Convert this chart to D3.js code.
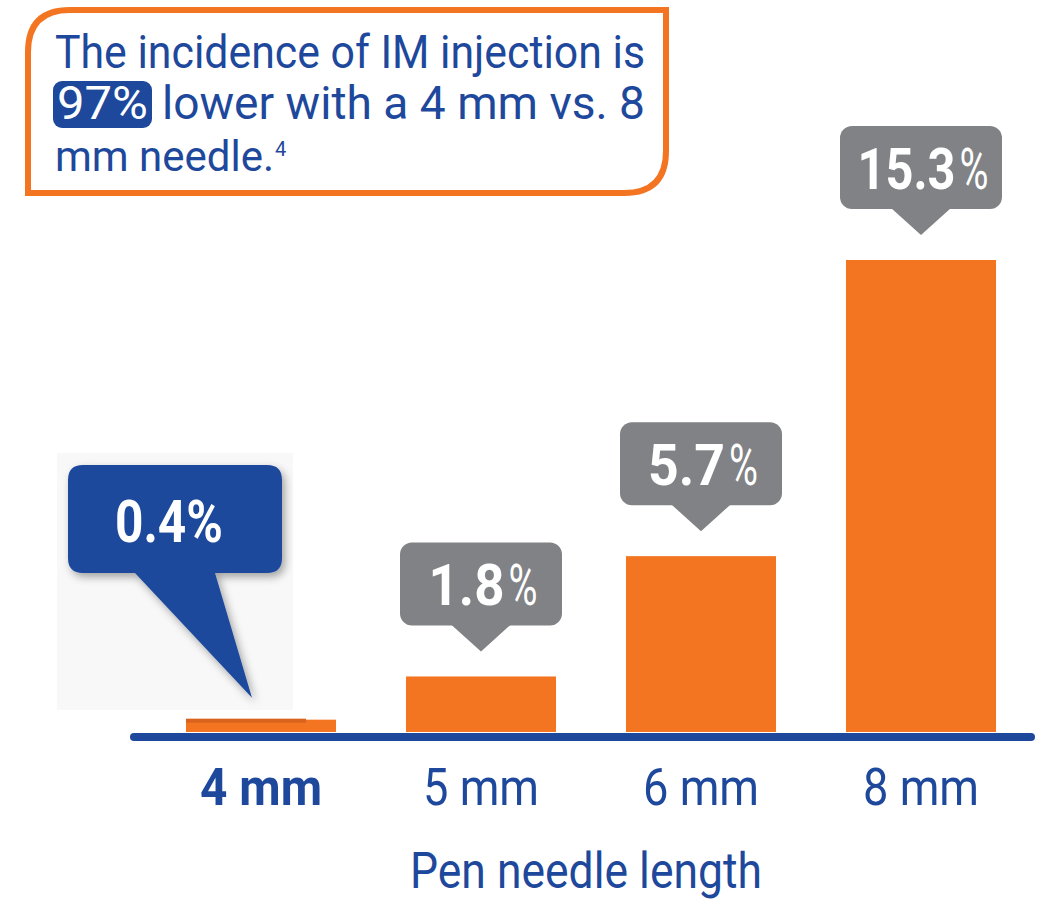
<!DOCTYPE html>
<html>
<head>
<meta charset="utf-8">
<script src="https://cdn.jsdelivr.net/npm/d3@7"></script>
<style>
  body { margin: 0; background: #fff; }
  svg { display: block; }
  text { font-family: "Liberation Sans Narrow", "Roboto", "Open Sans", sans-serif; }
</style>
</head>
<body>
<script>

var categories = ["4 mm", "5 mm", "6 mm", "8 mm"]
var values = [0.4, 1.8, 5.7, 15.3]
var valueNums = ["0.4", "1.8", "5.7", "15.3"]
var numWidths = [108, 76, 77, 98]
var headline = ["The incidence of IM injection is", "lower with a 4 mm vs. 8", "mm needle."]

var width = 1060, height = 902
var orange = "#f37521", blue = "#1e489c", grey = "#808285"

var svg = d3.select("body")
  .append("svg")
    .attr("width", width)
    .attr("height", height)

/******** Filters *********/
var defs = svg.append("defs")
var shadow = defs.append("filter")
    .attr("id", "shadow")
    .attr("x", "-30%").attr("y", "-30%")
    .attr("width", "160%").attr("height", "160%")
shadow.append("feDropShadow")
    .attr("dx", 3).attr("dy", 4)
    .attr("stdDeviation", 4)
    .attr("flood-color", "#000")
    .attr("flood-opacity", 0.35)

/******** Scales *********/
var x = d3.scaleBand()
  .domain(categories)
  .range([151, 1031])
  .paddingInner(0.318)
  .paddingOuter(0.159)

var y = d3.scaleLinear()
  .domain([0, 15.3])
  .range([732, 260])

// squeeze a text horizontally to a given width (condensed look)
function squeeze(sel, x0, y0, w){
  var nat = sel.node().getComputedTextLength()
  sel.attr("x", 0).attr("y", 0)
    .attr("transform", "translate(" + x0 + "," + y0 + ") scale(" + (w / nat) + ",1)")
}

/******** Headline box *********/
var bx0 = 28, by0 = 10, bx1 = 666, by1 = 193, br = 42
svg.append("path")
  .attr("d", "M" + bx0 + "," + by1 +
    " L" + bx0 + "," + (by0 + br) +
    " Q" + bx0 + "," + by0 + " " + (bx0 + br) + "," + by0 +
    " L" + bx1 + "," + by0 +
    " L" + bx1 + "," + (by1 - br) +
    " Q" + bx1 + "," + by1 + " " + (bx1 - br) + "," + by1 + " Z")
  .attr("fill", "#fff")
  .attr("stroke", orange)
  .attr("stroke-width", 6)

svg.append("text")
  .attr("x", 55).attr("y", 68)
  .attr("textLength", 590)
  .attr("lengthAdjust", "spacingAndGlyphs")
  .attr("font-size", 46)
  .attr("fill", blue)
  .text(headline[0])

svg.append("rect")
  .attr("x", 53).attr("y", 81)
  .attr("width", 99).attr("height", 47)
  .attr("rx", 9)
  .attr("fill", blue)

svg.append("text")
  .attr("x", 57).attr("y", 119)
  .attr("textLength", 91)
  .attr("lengthAdjust", "spacingAndGlyphs")
  .attr("font-size", 46)
  .attr("fill", "#fff")
  .text("97%")

svg.append("text")
  .attr("x", 162).attr("y", 119)
  .attr("textLength", 483)
  .attr("lengthAdjust", "spacingAndGlyphs")
  .attr("font-size", 46)
  .attr("fill", blue)
  .text(headline[1])

var line3 = svg.append("text")
  .attr("x", 55).attr("y", 171)
  .attr("font-size", 42)
  .attr("fill", blue)
  .text(headline[2])

svg.append("text")
  .attr("x", 55 + line3.node().getComputedTextLength() + 1).attr("y", 156)
  .attr("font-size", 20)
  .attr("fill", blue)
  .text("4")

/******** Bars *********/
svg.append("rect")
  .attr("x", 57).attr("y", 453)
  .attr("width", 236).attr("height", 257)
  .attr("fill", "#f8f8f8")

svg.selectAll("rect.bar")
  .data(values)
  .enter()
  .append("rect")
    .attr("class", "bar")
    .attr("x", function(d, i){ return x(categories[i]) })
    .attr("y", function(d){ return y(d) })
    .attr("width", x.bandwidth())
    .attr("height", function(d){ return y(0) - y(d) })
    .attr("fill", orange)

svg.append("rect")
  .attr("x", x(categories[0]))
  .attr("y", y(values[0]) - 1)
  .attr("width", 120)
  .attr("height", 4)
  .attr("fill", "#d8641e")

/******** Baseline + labels *********/
svg.append("line")
  .attr("x1", 134).attr("x2", 1031)
  .attr("y1", 737).attr("y2", 737)
  .attr("stroke", blue)
  .attr("stroke-width", 8)
  .attr("stroke-linecap", "round")

var axis = svg.append("g")
  .attr("transform", "translate(0,741)")
  .call(d3.axisBottom(x).tickSize(0).tickPadding(64))
axis.select(".domain").remove()
axis.selectAll("text")
  .attr("font-size", 52)
  .attr("fill", blue)
  .attr("font-weight", function(d, i){ return i == 0 ? "bold" : "normal" })
  .attr("textLength", function(d, i){ return i == 0 ? 122 : 116 })
  .attr("lengthAdjust", "spacingAndGlyphs")
  .attr("dy", 0)
  .attr("y", 64)

svg.append("text")
  .attr("x", 586).attr("y", 888)
  .attr("text-anchor", "middle")
  .attr("font-size", 50)
  .attr("fill", blue)
  .attr("textLength", 352)
  .attr("lengthAdjust", "spacingAndGlyphs")
  .text("Pen needle length")

/******** Grey callouts *********/
var bw = 162, bh = 83, pw = 30, ph = 26, gap = 25, pctW = 29

function greyCallout(i){
  var cx = x(categories[i]) + x.bandwidth() / 2
  var tip = y(values[i]) - gap
  var top = tip - ph - bh
  var left = cx + 2 - (numWidths[i] + 4 + pctW) / 2
  var g = svg.append("g")
  g.append("rect")
    .attr("x", cx - bw / 2).attr("y", top)
    .attr("width", bw).attr("height", bh)
    .attr("rx", 12)
    .attr("fill", grey)
  g.append("path")
    .attr("d", "M" + (cx - pw) + "," + (top + bh - 1) + " L" + cx + "," + tip + " L" + (cx + pw) + "," + (top + bh - 1) + " Z")
    .attr("fill", grey)
  var num = g.append("text")
    .attr("fill", "#fff")
    .attr("font-size", 57)
    .attr("font-weight", "bold")
    .text(valueNums[i])
  squeeze(num, left, top + 63, numWidths[i])
  var pct = g.append("text")
    .attr("fill", "#fff")
    .attr("font-size", 57)
    .attr("font-weight", "normal")
    .text("%")
  squeeze(pct, left + numWidths[i] + 4, top + 63, pctW)
}
greyCallout(1)
greyCallout(2)
greyCallout(3)

/******** Blue callout *********/
var tipX = x(categories[0]) + 66, tipY = y(values[0]) - 22
svg.append("path")
  .attr("d", "M" + 83 + "," + 465 +
    " L" + 267 + "," + 465 +
    " Q" + 282 + "," + 465 + " 282," + 480 +
    " L282," + 558 +
    " Q282,573 267,573" +
    " L215,573 L" + tipX + "," + tipY + " L135,573" +
    " L83,573 Q68,573 68,558 L68,480 Q68,465 83,465 Z")
  .attr("fill", blue)
  .attr("filter", "url(#shadow)")

var blueLabel = svg.append("text")
  .attr("fill", "#fff")
  .attr("font-size", 59)
  .attr("font-weight", "bold")
  .text(valueNums[0] + "%")
squeeze(blueLabel, 115, 542, numWidths[0])

</script>
</body>
</html>
